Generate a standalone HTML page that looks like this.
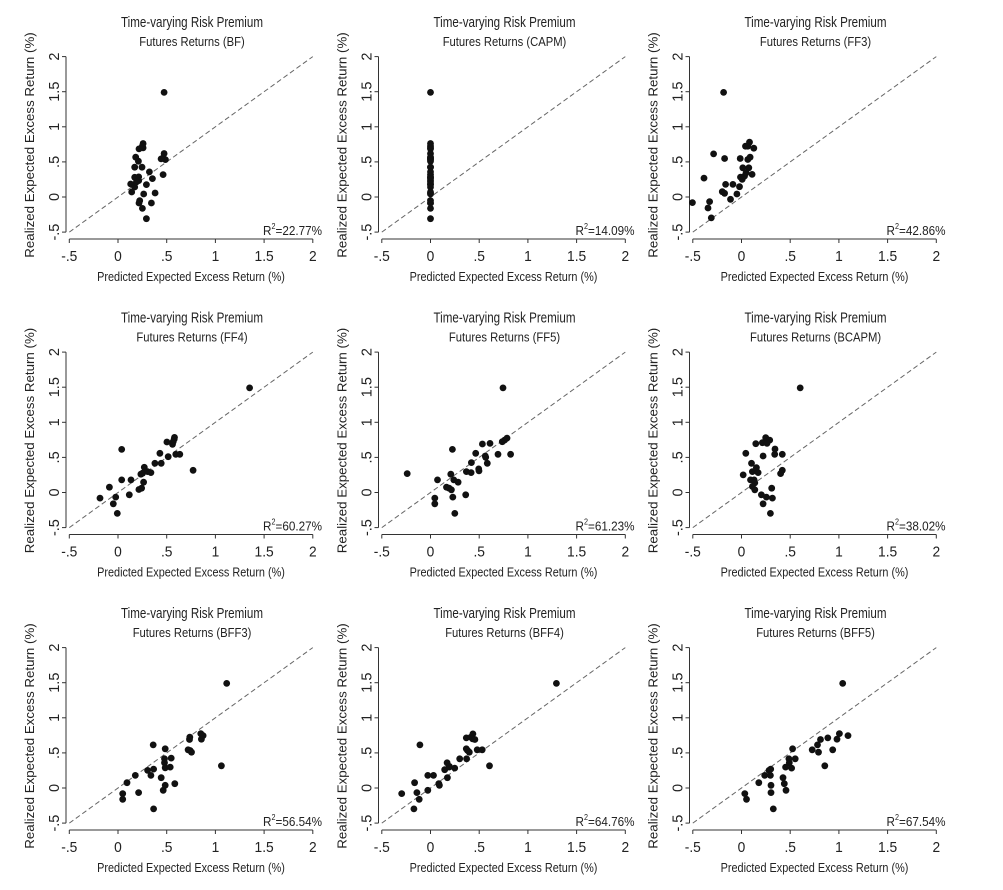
<!DOCTYPE html>
<html><head><meta charset="utf-8"><style>
html,body{margin:0;padding:0;background:#fff;}
svg{display:block;font-family:"Liberation Sans",Arial,sans-serif;}
</style></head><body>
<svg id="s" width="1003" height="890" viewBox="0 0 1003 890" xmlns="http://www.w3.org/2000/svg"></svg>
<script>
var S=document.getElementById('s');
var h='';
var panels=[
{t:'Futures Returns (BF)',r:'22.77',x0:355,xs:291.6,y0:592,ys:210,p:[[493,279],[430,432],[430,445],[418,448],[428,440],[493,462],[490,475],[497,480],[484,478],[408,473],[416,485],[405,503],[427,503],[490,525],[449,517],[405,533],[417,532],[417,543],[410,547],[458,537],[440,555],[393,553],[405,562],[396,577],[432,583],[466,580],[420,603],[418,610],[455,610],[428,626],[440,657]]},
{t:'Futures Returns (CAPM)',r:'14.09',capm:1},
{t:'Futures Returns (FF3)',r:'42.86',x0:246,xs:293.5,y0:443,ys:211.5,p:[[192,128],[162,313],[195,327],[133,386],[98,460],[150,457],[145,476],[155,506],[188,427],[195,432],[198,405],[220,405],[213,450],[232,434],[240,412],[242,327],[243,383],[248,390],[250,355],[255,380],[258,290],[265,290],[270,278],[265,330],[272,323],[268,355],[278,375],[283,296],[260,370]]},
{t:'Futures Returns (FF4)',r:'60.27',x0:234,xs:293,y0:443,ys:211.5,p:[[630,128],[245,313],[180,460],[208,427],[220,477],[227,457],[232,506],[245,405],[268,450],[273,405],[297,434],[305,430],[303,388],[308,385],[311,412],[313,367],[323,380],[333,383],[345,355],[360,325],[364,355],[381,291],[385,335],[398,298],[400,290],[403,282],[404,277],[408,328],[420,328],[460,376]]},
{t:'Futures Returns (FF5)',r:'61.23',x0:242,xs:293,y0:443,ys:211.5,p:[[460,128],[308,313],[172,386],[255,460],[255,477],[263,405],[290,427],[298,430],[305,435],[303,388],[312,405],[325,412],[309,457],[315,506],[348,450],[350,380],[364,383],[365,353],[378,325],[387,372],[388,378],[398,297],[407,333],[408,337],[413,355],[421,295],[445,328],[458,290],[465,285],[472,279],[483,328]]},
{t:'Futures Returns (BCAPM)',r:'38.02',x0:245,xs:293.6,y0:443,ys:211.5,p:[[422,128],[258,325],[250,390],[275,355],[288,296],[308,293],[318,278],[322,295],[330,285],[310,333],[346,312],[345,328],[368,328],[368,376],[363,386],[278,380],[290,368],[295,383],[272,405],[283,405],[285,414],[278,425],[285,435],[305,450],[310,477],[320,457],[336,430],[338,460],[332,506]]},
{t:'Futures Returns (BFF3)',r:'56.54',x0:236,xs:293,y0:443,ys:211.5,p:[[563,128],[342,313],[378,325],[263,427],[250,460],[250,477],[288,405],[298,457],[325,390],[335,405],[343,386],[343,506],[366,412],[372,450],[376,355],[376,367],[378,382],[378,435],[393,380],[396,353],[407,430],[447,328],[452,290],[451,297],[453,330],[457,335],[485,279],[487,296],[492,285],[547,376]]},
{t:'Futures Returns (BFF4)',r:'64.76',x0:240,xs:294,y0:443,ys:211.5,p:[[620,128],[208,313],[153,460],[192,427],[199,457],[206,477],[190,506],[232,405],[232,450],[249,405],[265,430],[267,435],[283,388],[290,367],[291,412],[296,380],[297,378],[313,383],[328,355],[348,292],[348,325],[349,355],[352,330],[357,335],[362,290],[368,280],[367,295],[374,297],[381,328],[396,328],[418,376]]},
{t:'Futures Returns (BFF5)',r:'67.54',x0:245,xs:293.6,y0:443,ys:211.5,p:[[550,128],[255,460],[260,477],[297,427],[315,405],[328,390],[333,386],[332,405],[334,435],[334,457],[341,506],[370,412],[374,430],[379,450],[378,380],[388,355],[389,367],[396,383],[399,325],[407,355],[458,328],[474,313],[477,335],[483,297],[496,376],[505,292],[520,328],[533,296],[540,279],[566,285]]}
];
var bf=panels[0];
function T(x,y,sx,fs,txt,rot){return '<g transform="translate('+x+','+y+')'+(rot?' rotate(-90)':'')+' scale('+sx+',1)"><text x="0" y="0" font-size="'+fs+'" text-anchor="middle" fill="#222">'+txt+'</text></g>';}
for(var i=0;i<9;i++){
 var P=panels[i];var ox=[0,312.5,623.5][i%3],oy=[0,295.5,591][Math.floor(i/3)];
 function X(v){return ox+118+97.4*v;} function Y(v){return oy+197-70.2*v;}
 h+=T(ox+192,oy+27,0.8,14.5,'Time-varying Risk Premium');
 h+=T(ox+192,oy+46,0.9,12.5,P.t);
 h+='<line x1="'+(ox+66)+'" y1="'+Y(2)+'" x2="'+(ox+66)+'" y2="'+Y(-0.5)+'" stroke="#333" stroke-width="1"/>';
 h+='<line x1="'+X(-0.5)+'" y1="'+(oy+239)+'" x2="'+X(2)+'" y2="'+(oy+239)+'" stroke="#333" stroke-width="1"/>';
 var tl=['-.5','0','.5','1','1.5','2'];
 for(var k=0;k<6;k++){var v=-0.5+0.5*k;
  h+='<line x1="'+X(v)+'" y1="'+(oy+239)+'" x2="'+X(v)+'" y2="'+(oy+243)+'" stroke="#333"/>';
  h+=T(X(v),oy+261,0.95,14.5,tl[k]);
  h+='<line x1="'+(ox+62)+'" y1="'+Y(v)+'" x2="'+(ox+66)+'" y2="'+Y(v)+'" stroke="#333"/>';
  h+='<text transform="translate('+(ox+59)+','+Y(v)+') rotate(-90)" font-size="14.5" text-anchor="middle" fill="#222">'+tl[k]+'</text>';
 }
 h+=T(ox+191,oy+281,0.87,12.5,'Predicted Expected Excess Return (%)');
 h+='<text transform="translate('+(ox+34)+','+(oy+145)+') rotate(-90)" font-size="13.3" text-anchor="middle" fill="#222">Realized Expected Excess Return (%)</text>';
 h+='<line x1="'+X(-0.5)+'" y1="'+Y(-0.5)+'" x2="'+X(2)+'" y2="'+Y(2)+'" stroke="#666" stroke-width="1" stroke-dasharray="5,3"/>';
 h+='<g transform="translate('+(ox+322)+','+(oy+235)+') scale(0.9,1)"><text x="0" y="0" font-size="13" text-anchor="end" fill="#222">R<tspan font-size="8" dy="-6">2</tspan><tspan dy="6">='+P.r+'%</tspan></text></g>';
 var pts=P.capm?bf.p:P.p;
 for(var j=0;j<pts.length;j++){
  var dx,dy;
  if(P.capm){dx=0;dy=(bf.y0-pts[j][1])/bf.ys;}
  else{dx=(pts[j][0]-P.x0)/P.xs;dy=(P.y0-pts[j][1])/P.ys;}
  h+='<circle cx="'+X(dx).toFixed(1)+'" cy="'+Y(dy).toFixed(1)+'" r="3.4" fill="#111"/>';
 }
}
S.innerHTML=h;
</script>
</body></html>
